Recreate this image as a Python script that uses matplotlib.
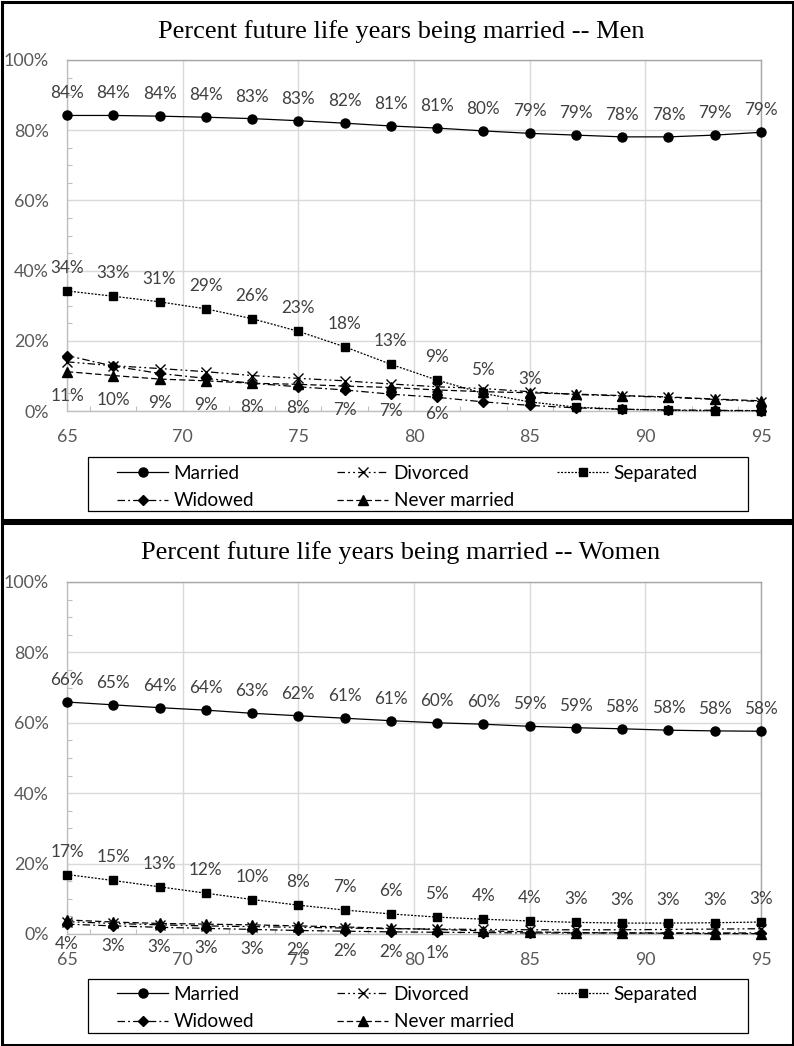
import matplotlib
matplotlib.use('Agg')
import matplotlib.pyplot as plt
from matplotlib.patches import Rectangle
from matplotlib.ticker import FuncFormatter, MultipleLocator

# ---------------- data ----------------
ages = [65, 67, 69, 71, 73, 75, 77, 79, 81, 83, 85, 87, 89, 91, 93, 95]

men_married = [84.2, 84.2, 84.0, 83.7, 83.3, 82.7, 82.0, 81.2, 80.6, 79.8, 79.1, 78.6, 78.1, 78.1, 78.6, 79.4]
men_divorced = [14.0, 12.9, 12.1, 11.2, 10.1, 9.3, 8.6, 7.7, 6.9, 6.4, 5.5, 4.7, 4.3, 3.9, 3.3, 2.7]
men_separated = [34.2, 32.7, 31.1, 29.1, 26.3, 22.7, 18.3, 13.3, 8.8, 5.0, 2.6, 1.1, 0.5, 0.2, 0.1, 0.1]
men_widowed = [15.8, 12.8, 10.7, 9.3, 7.9, 6.9, 6.0, 4.8, 3.9, 2.6, 1.6, 0.9, 0.5, 0.3, 0.2, 0.1]
men_never = [11.2, 10.1, 9.1, 8.6, 7.9, 7.6, 7.1, 6.7, 6.0, 5.5, 5.2, 4.8, 4.4, 4.0, 3.4, 2.9]

women_married = [65.9, 65.1, 64.3, 63.6, 62.7, 62.0, 61.3, 60.6, 60.0, 59.6, 59.0, 58.6, 58.3, 57.9, 57.7, 57.6]
women_divorced = [3.5, 3.0, 2.6, 2.3, 2.1, 1.9, 1.7, 1.5, 1.4, 1.3, 1.2, 1.2, 1.2, 1.3, 1.4, 1.5]
women_separated = [16.9, 15.2, 13.4, 11.6, 9.8, 8.2, 6.8, 5.7, 4.8, 4.2, 3.7, 3.3, 3.1, 3.1, 3.2, 3.4]
women_widowed = [2.8, 2.3, 1.9, 1.6, 1.3, 1.0, 0.8, 0.6, 0.5, 0.4, 0.3, 0.3, 0.3, 0.3, 0.3, 0.3]
women_never = [4.0, 3.4, 3.0, 2.8, 2.6, 2.3, 2.0, 1.6, 1.3, 0.9, 0.6, 0.4, 0.3, 0.2, 0.1, 0.1]

# number of labelled points per series (labels shown from the first age)
men_sep_nlab = 11
men_never_nlab = 9
women_sep_nlab = 16
women_never_nlab = 9

series_names = ['Married', 'Divorced', 'Separated', 'Widowed', 'Never married']
titles = ['Percent future life years being married -- Men',
          'Percent future life years being married -- Women']
x_ticks = [65, 70, 75, 80, 85, 90, 95]
y_ticks = [0, 20, 40, 60, 80, 100]

# ---------------- style ----------------
W, H = 794, 1046
fig = plt.figure(figsize=(W / 100, H / 100), dpi=100)

FONT = 'Lato'
TICK_COLOR = '#595959'
LAB_COLOR = '#404040'
GRID = '#d9d9d9'
LAB_SIZE = 12.3
TICK_SIZE = 12.9
LEG_SIZE = 13.6

styles = {
    'Married': dict(ls='-', marker='o', ms=6.5),
    'Divorced': dict(ls=(0, (6, 2.5, 1.5, 2.5, 1.5, 2.5)), marker='x', ms=6.5, mew=1.0),
    'Separated': dict(ls=(0, (1.6, 1.2)), marker='s', ms=6.3),
    'Widowed': dict(ls=(0, (6, 2.5, 1.5, 2.5)), marker='D', ms=4.6),
    'Never married': dict(ls=(0, (5, 2.5)), marker='^', ms=6.5),
}


def fx(px):
    return px / W


def fy(py):
    return 1 - py / H


def make_panel(ax, data, nlabs, title, title_y, legend_top, legend_box):
    handles = {}
    for name, vals in zip(series_names, data):
        st = styles[name]
        ln, = ax.plot(ages, vals, color='black', lw=0.9, ls=st['ls'], marker=st['marker'],
                      ms=st['ms'], mew=st.get('mew', 1.0), mfc='black', mec='black',
                      clip_on=False, zorder=3)
        handles[name] = ln

    married, divorced, separated, widowed, never = data
    for a, v in zip(ages, married):
        ax.annotate(f'{v:.0f}%', (a, v), xytext=(0, 22), textcoords='offset pixels',
                    ha='center', va='center', fontsize=LAB_SIZE, color=LAB_COLOR, family=FONT,
                    zorder=5)
    for a, v in list(zip(ages, separated))[:nlabs[0]]:
        ax.annotate(f'{v:.0f}%', (a, v), xytext=(0, 23), textcoords='offset pixels',
                    ha='center', va='center', fontsize=LAB_SIZE, color=LAB_COLOR, family=FONT,
                    zorder=5)
    for a, v in list(zip(ages, never))[:nlabs[1]]:
        ax.annotate(f'{v:.0f}%', (a, v), xytext=(0, -24), textcoords='offset pixels',
                    ha='center', va='center', fontsize=LAB_SIZE, color=LAB_COLOR, family=FONT,
                    zorder=5)

    ax.set_xlim(65, 95)
    ax.set_ylim(0, 100)
    ax.set_xticks(x_ticks)
    ax.set_yticks(y_ticks)
    ax.xaxis.set_minor_locator(MultipleLocator(2))
    ax.yaxis.set_minor_locator(MultipleLocator(5))
    ax.yaxis.set_major_formatter(FuncFormatter(lambda v, p: f'{v:.0f}%'))
    ax.grid(True, which='major', color=GRID, lw=1.0, zorder=0)
    ax.set_axisbelow(True)
    ax.tick_params(which='major', length=0, labelsize=TICK_SIZE, labelcolor=TICK_COLOR)
    ax.tick_params(axis='y', which='major', pad=13)
    ax.tick_params(axis='x', which='major', pad=13)
    ax.tick_params(which='minor', direction='in', length=3.5, width=0.8, color='#bfbfbf')
    ax.tick_params(axis='x', which='minor', bottom=True, top=False)
    ax.tick_params(axis='y', which='minor', left=True, right=False)
    for lab in ax.get_xticklabels() + ax.get_yticklabels():
        lab.set_family(FONT)
    for s in ['left', 'bottom']:
        ax.spines[s].set_color('#bfbfbf')
        ax.spines[s].set_linewidth(1.0)
    for s in ['top', 'right']:
        ax.spines[s].set_color('#a6a6a6')
        ax.spines[s].set_linewidth(1.0)

    fig.text(fx(401), fy(title_y), title, ha='center', va='center',
             fontsize=19, family='Liberation Serif', color='black')

    # legend: three columns at fixed positions, framed
    cols = [['Married', 'Widowed'], ['Divorced', 'Never married'], ['Separated']]
    col_x = [117, 337, 557]
    for names, cx in zip(cols, col_x):
        leg = fig.legend([handles[n] for n in names], names, loc='upper left',
                         bbox_to_anchor=(fx(cx), fy(legend_top)), bbox_transform=fig.transFigure,
                         frameon=False, borderpad=0, borderaxespad=0, handlelength=2.7,
                         handletextpad=0.3, labelspacing=0.55,
                         prop=dict(family=FONT, size=LEG_SIZE))
        for t in leg.get_texts():
            t.set_color('black')
    x0, y0, x1, y1 = legend_box
    fig.patches.append(Rectangle((fx(x0), fy(y1)), fx(x1) - fx(x0), fy(y0) - fy(y1),
                                 transform=fig.transFigure, fill=False, ec='black', lw=0.9))


# top panel
ax1 = fig.add_axes([fx(67), fy(411), fx(761) - fx(67), fy(60) - fy(411)])
make_panel(ax1, [men_married, men_divorced, men_separated, men_widowed, men_never],
           (men_sep_nlab, men_never_nlab), titles[0], 32, 465, (88, 457, 748, 511))

# bottom panel
ax2 = fig.add_axes([fx(67), fy(934), fx(761) - fx(67), fy(582) - fy(934)])
make_panel(ax2, [women_married, women_divorced, women_separated, women_widowed, women_never],
           (women_sep_nlab, women_never_nlab), titles[1], 553, 986, (88, 979, 748, 1033))

# panel borders
fig.patches.append(Rectangle((fx(1.5), fy(520)), fx(792.5) - fx(1.5), fy(1.5) - fy(520),
                             transform=fig.transFigure, fill=False, ec='black', lw=2.2))
fig.patches.append(Rectangle((fx(1.5), fy(1044.5)), fx(792.5) - fx(1.5), fy(523) - fy(1044.5),
                             transform=fig.transFigure, fill=False, ec='black', lw=2.2))

fig.savefig('out.png', dpi=100)
